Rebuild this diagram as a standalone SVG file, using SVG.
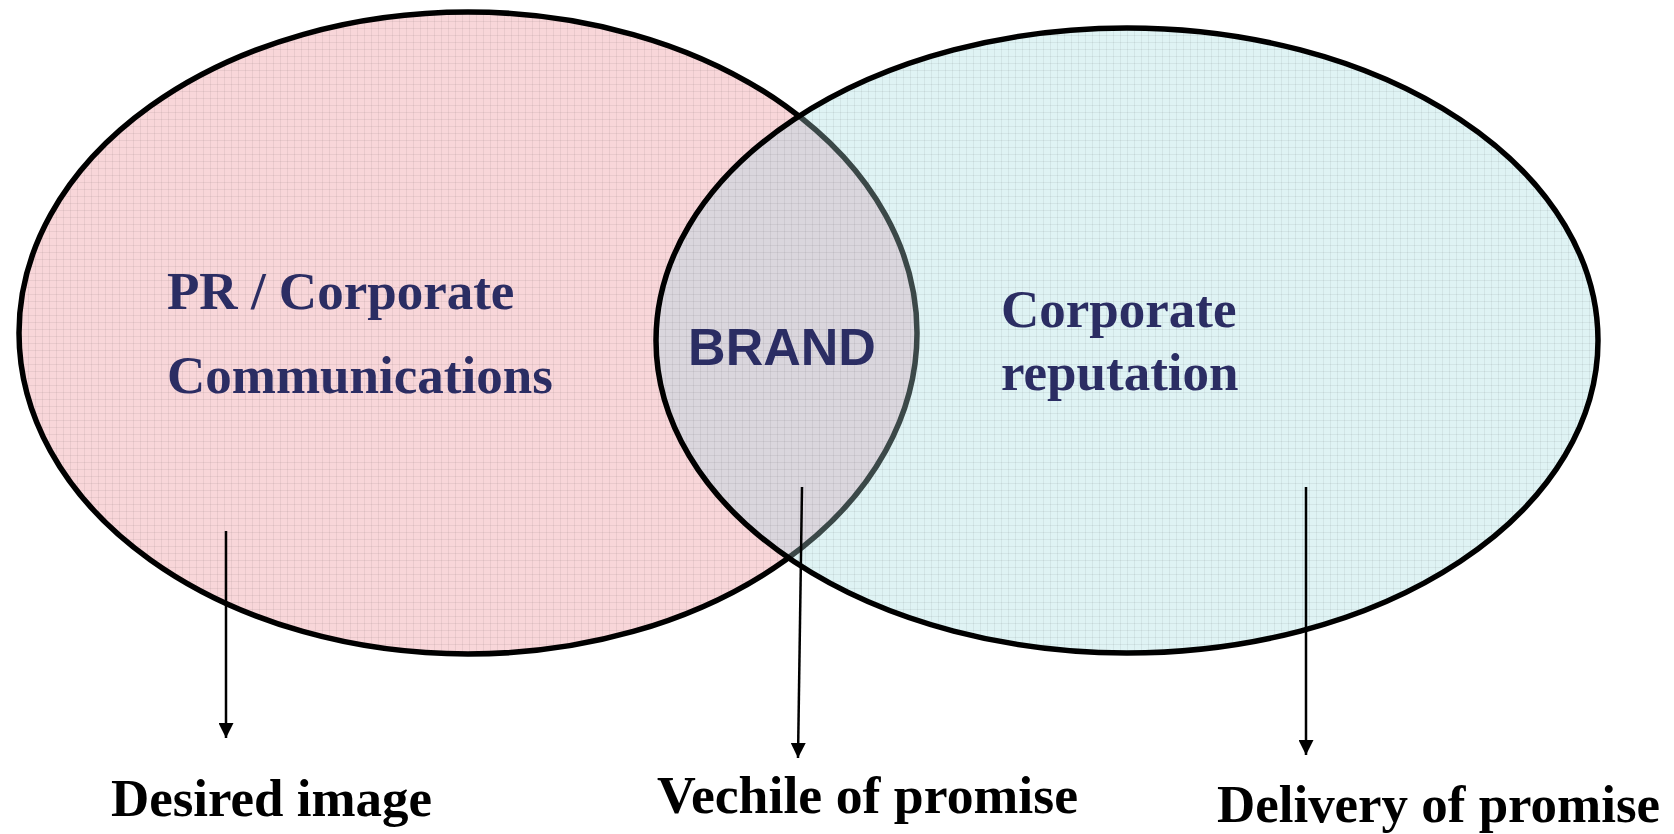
<svg xmlns="http://www.w3.org/2000/svg" width="1674" height="834" viewBox="0 0 1674 834">
  <style>
    .navy { fill: #2b2d63; font-family: "Liberation Serif", "Times New Roman", serif; font-weight: bold; font-size: 53px; }
    .brand { fill: #2b2d63; font-family: "Liberation Sans", Arial, sans-serif; font-weight: bold; font-size: 52px; }
    .label { fill: #000; font-family: "Liberation Serif", "Times New Roman", serif; font-weight: bold; font-size: 53px; }
    .outline { fill: none; stroke: #000; stroke-width: 5.5; }
    .link { stroke: #000; stroke-width: 2.5; fill: none; marker-end: url(#arrow); }
  </style>
  <defs>
    <pattern id="grid" width="7" height="7" patternUnits="userSpaceOnUse">
      <path d="M0 0.5H7M0.5 0V7" stroke="#000" stroke-opacity="0.06" stroke-width="1"/>
    </pattern>
    <clipPath id="rightClip">
      <ellipse cx="1127" cy="340.5" rx="471" ry="312.5"/>
    </clipPath>
    <marker id="arrow" viewBox="0 0 10 10" refX="10" refY="5" markerWidth="6" markerHeight="6" markerUnits="strokeWidth" orient="auto">
      <path d="M0 0L10 5L0 10z" fill="#000"/>
    </marker>
  </defs>

  <rect width="1674" height="834" fill="#fff"/>

  <!-- left circle: communications -->
  <g id="pr-communications">
    <ellipse cx="468" cy="333" rx="449" ry="321" fill="#f8d6d9"/>
    <ellipse cx="468" cy="333" rx="449" ry="321" fill="url(#grid)"/>
    <ellipse cx="468" cy="333" rx="449" ry="321" class="outline"/>
    <text class="navy" x="167" y="309">PR / Corporate</text>
    <text class="navy" x="167" y="393">Communications</text>
  </g>

  <!-- right circle: reputation -->
  <g id="corporate-reputation">
    <ellipse cx="1127" cy="340.5" rx="471" ry="312.5" fill="#dff3f4"/>
    <ellipse cx="1127" cy="340.5" rx="471" ry="312.5" fill="url(#grid)"/>
    <text class="navy" x="1001" y="327">Corporate</text>
    <text class="navy" x="1001" y="390">reputation</text>
  </g>

  <!-- overlap: brand -->
  <g id="brand">
    <g clip-path="url(#rightClip)">
      <ellipse cx="468" cy="333" rx="449" ry="321" fill="#dad6dd"/>
      <ellipse cx="468" cy="333" rx="449" ry="321" fill="url(#grid)"/>
      <ellipse cx="468" cy="333" rx="449" ry="321" fill="none" stroke="#3b4848" stroke-width="5.5"/>
    </g>
    <ellipse cx="1127" cy="340.5" rx="471" ry="312.5" class="outline"/>
    <text class="brand" x="782" y="365" text-anchor="middle">BRAND</text>
  </g>

  <!-- outcome labels -->
  <g id="desired-image">
    <text class="label" x="111" y="816" textLength="321" lengthAdjust="spacingAndGlyphs">Desired image</text>
  </g>
  <g id="vehicle-of-promise">
    <text class="label" x="657" y="813" textLength="421" lengthAdjust="spacingAndGlyphs">Vechile of promise</text>
  </g>
  <g id="delivery-of-promise">
    <text class="label" x="1217" y="822" textLength="443" lengthAdjust="spacingAndGlyphs">Delivery of promise</text>
  </g>

  <!-- arrows -->
  <g id="connectors">
    <line class="link" x1="226" y1="531" x2="226" y2="738"/>
    <line class="link" x1="802" y1="487" x2="798" y2="758"/>
    <line class="link" x1="1306" y1="487" x2="1306" y2="755"/>
  </g>
</svg>
